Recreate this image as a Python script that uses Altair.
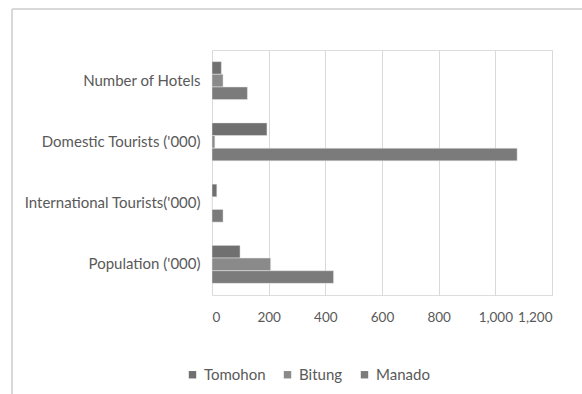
import altair as alt
import pandas as pd

categories = ["Number of Hotels", "Domestic Tourists ('000)", "International Tourists('000)", "Population ('000)"]
series = ["Tomohon", "Bitung", "Manado"]
tomohon = [33, 194, 17, 99]
bitung = [39, 10, 0, 207]
manado = [125, 1077, 39, 429]
colors = ["#707070", "#8a8a8a", "#7b7b7b"]

rows = []
for i, c in enumerate(categories):
    for s, vals in zip(series, [tomohon, bitung, manado]):
        rows.append({"category": c, "series": s, "value": vals[i]})
df = pd.DataFrame(rows)

FONT = "Lato"
TXT = "#595959"
W, H = 340, 245
PL, PT = 212, 50

bars = alt.Chart(df).mark_bar(stroke="#e8e8e8", strokeWidth=0.5).encode(
    y=alt.Y("category:N", sort=categories, title=None,
            scale=alt.Scale(paddingInner=0.38, paddingOuter=0.19),
            axis=alt.Axis(ticks=False, domain=False, labelFont=FONT, labelFontSize=15,
                          labelColor=TXT, labelPadding=12, labelLimit=220)),
    yOffset=alt.YOffset("series:N", sort=series),
    x=alt.X("value:Q", title=None,
            scale=alt.Scale(domain=[0, 1200]),
            axis=alt.Axis(values=[0, 200, 400, 600, 800, 1000, 1200], format=",d",
                          labelOverlap=False, labelBound=False,
                          ticks=False, domain=False, grid=True, gridColor="#d9d9d9",
                          labelFont=FONT, labelFontSize=13.5, labelColor=TXT, labelPadding=15)),
    color=alt.Color("series:N", sort=series,
                    scale=alt.Scale(domain=series, range=colors),
                    legend=alt.Legend(title=None, orient="none", direction="horizontal",
                                      legendX=-27, legendY=317, symbolType="square",
                                      symbolSize=55, symbolStrokeWidth=0,
                                      labelFont=FONT, labelFontSize=15, labelColor=TXT,
                                      columnPadding=14, labelOffset=4)),
)

frame_left = alt.Chart(df).mark_rule(color="#d9d9d9", strokeWidth=1.5).encode(
    x=alt.value(12 - PL), y=alt.value(9 - PT), y2=alt.value(394 - PT))
frame_top = alt.Chart(df).mark_rule(color="#d9d9d9", strokeWidth=1.5).encode(
    x=alt.value(12 - PL), x2=alt.value(582 - PL), y=alt.value(9 - PT))

chart = alt.layer(frame_left, frame_top, bars).properties(
    width=W, height=H,
    autosize=alt.AutoSizeParams(type="none"),
    padding={"left": PL, "top": PT, "right": 582 - PL - W, "bottom": 394 - PT - H},
).configure_view(stroke=None).configure(background="white")

chart.save("out.html", embed_options={"renderer": "svg", "actions": False})
